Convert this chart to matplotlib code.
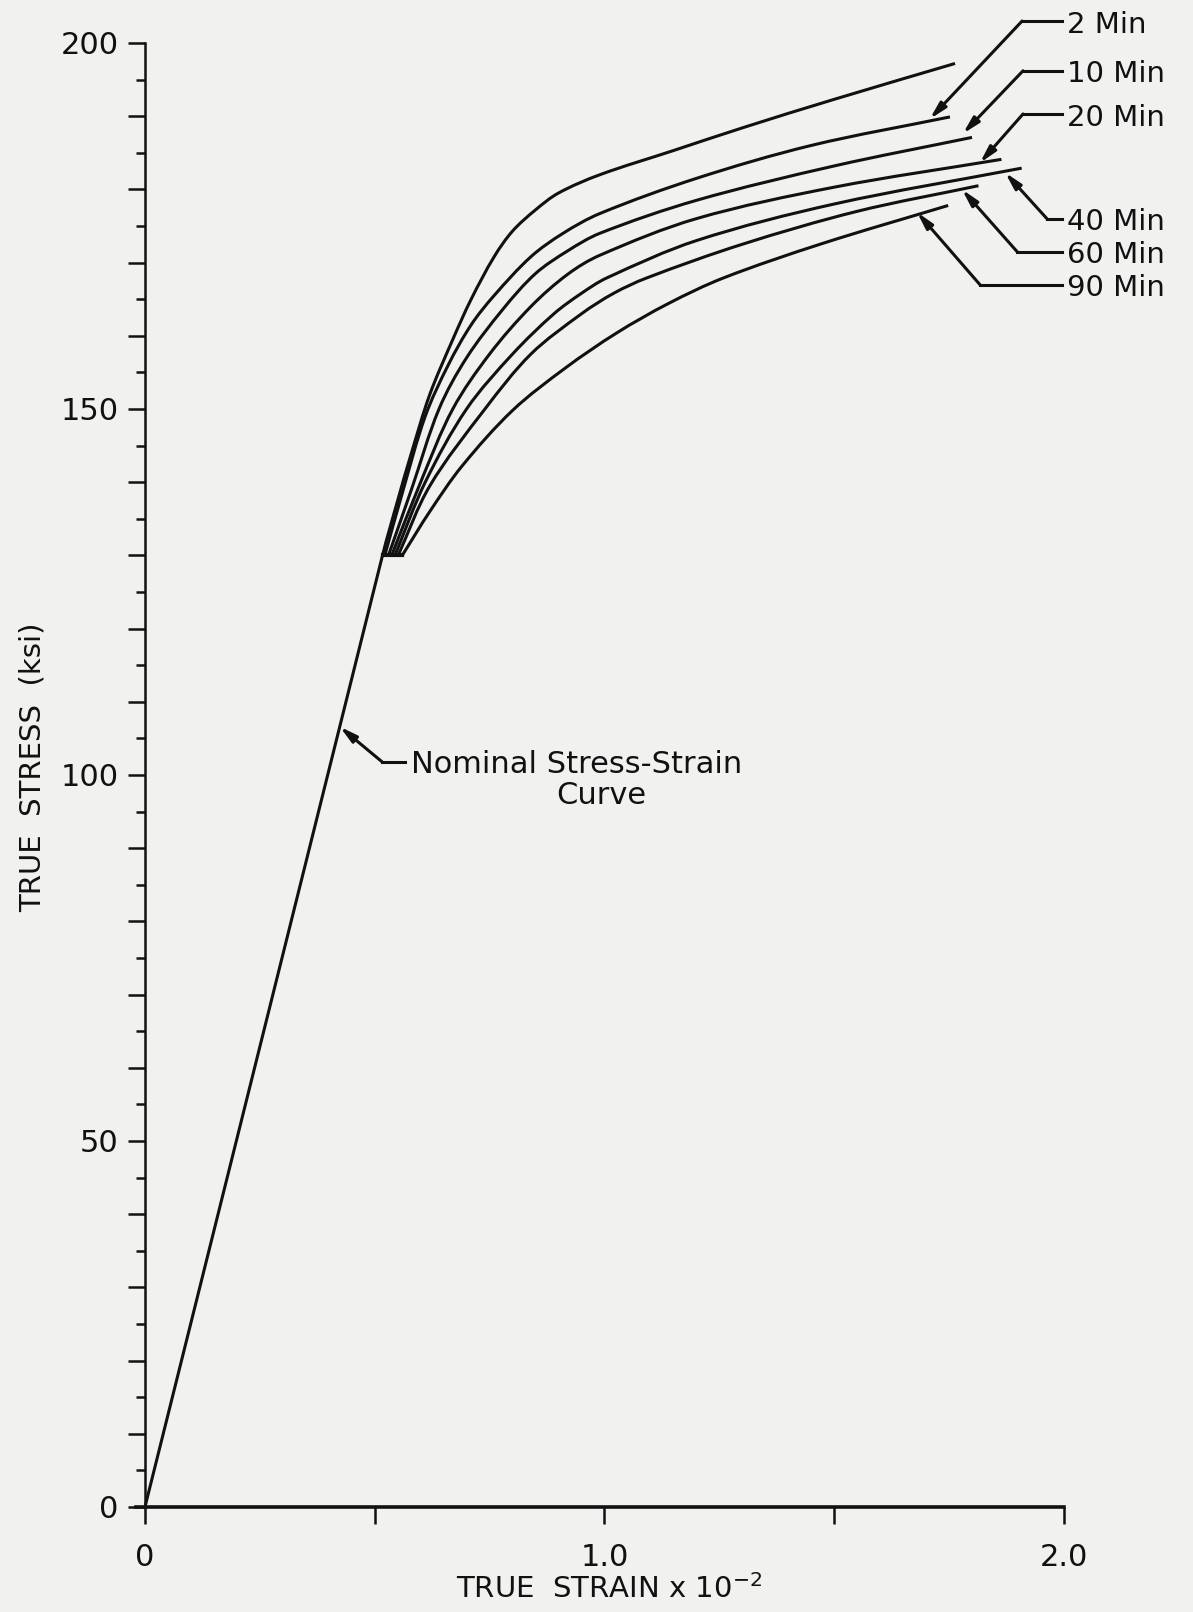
import numpy as np
import matplotlib.pyplot as plt
from matplotlib.path import Path
from matplotlib.patches import PathPatch
from matplotlib.ticker import MultipleLocator, FuncFormatter

plt.rcParams['font.family'] = ['DejaVu Sans']

# ---- data (strain x 10^-2, stress ksi)
nom_x = [0, 0.517, 0.55, 0.58, 0.62, 0.67, 0.71, 0.76, 0.80, 0.85, 0.90, 0.99, 1.15, 1.30, 1.50, 1.763]
nom_y = [0, 130, 137.5, 144, 152, 159.5, 165, 170.8, 174.3, 177.2, 179.5, 182.0, 185.3, 188.4, 192.3, 197.2]

min2_x = [0.522, 0.56, 0.61, 0.66, 0.71, 0.76, 0.84, 0.91, 0.99, 1.2, 1.45, 1.752]
min2_y = [130, 138.5, 149, 156, 161.5, 165.5, 170.8, 174.0, 176.7, 181.5, 186.0, 189.9]

min10_x = [0.53, 0.58, 0.64, 0.70, 0.78, 0.85, 0.92, 0.99, 1.2, 1.5, 1.80]
min10_y = [130, 139, 150, 157, 163.7, 168.5, 171.6, 174.0, 178.5, 183.2, 187.1]

min20_x = [0.537, 0.60, 0.67, 0.75, 0.84, 0.92, 0.99, 1.2, 1.5, 1.864]
min20_y = [130, 140, 150, 157.5, 164.0, 168.4, 171.0, 176.0, 180.3, 184.1]

min40_x = [0.544, 0.61, 0.70, 0.80, 0.89, 0.95, 1.005, 1.2, 1.5, 1.908]
min40_y = [130, 140, 150, 157.5, 163.0, 165.8, 167.9, 173.0, 178.0, 182.9]

min60_x = [0.551, 0.62, 0.74, 0.84, 0.95, 1.02, 1.092, 1.3, 1.55, 1.814]
min60_y = [130, 139.5, 150, 157.5, 163.0, 165.8, 167.9, 172.5, 177.0, 180.5]

min90_x = [0.56, 0.62, 0.69, 0.80, 0.915, 1.027, 1.139, 1.259, 1.474, 1.748]
min90_y = [130, 136.0, 142.2, 149.8, 155.6, 160.4, 164.4, 167.9, 172.6, 177.8]

# label leaders: label, label height, elbow x, arrow tip
labels = ['2 Min', '10 Min', '20 Min', '40 Min', '60 Min', '90 Min']
label_y = [203.0, 196.2, 190.3, 176.0, 171.5, 167.0]
elbow_x = [1.909, 1.911, 1.911, 1.963, 1.898, 1.817]
tip_x = [1.708, 1.780, 1.817, 1.872, 1.778, 1.680]
tip_y = [189.6, 187.6, 183.6, 182.3, 180.0, 176.9]

x_ticks = [0, 0.5, 1.0, 1.5, 2.0]
x_ticklabels = ['0', '', '1.0', '', '2.0']

ink = '#111111'
paper = '#f1f1f0'
SX, SY = 459.5, 7.32  # rough pixels per unit, only used to shape the bezier handles


def smooth_path(xs, ys, start_dir=None):
    # bezier path through the read points (no extra data points)
    p = np.column_stack([np.asarray(xs) * SX, np.asarray(ys) * SY])
    n = len(p)
    t = np.zeros_like(p)
    for i in range(n):
        if i == 0:
            d = np.asarray(start_dir) * [SX, SY] if start_dir is not None else p[1] - p[0]
        elif i == n - 1:
            d = p[-1] - p[-2]
        else:
            d = p[i + 1] - p[i - 1]
        t[i] = d / np.hypot(*d)
    verts = [p[0]]
    codes = [Path.MOVETO]
    for i in range(n - 1):
        L = np.hypot(*(p[i + 1] - p[i]))
        verts += [p[i] + t[i] * L / 3, p[i + 1] - t[i + 1] * L / 3, p[i + 1]]
        codes += [Path.CURVE4] * 3
    verts = np.array(verts) / [SX, SY]
    return Path(verts, codes)


fig = plt.figure(figsize=(11.93, 16.12), dpi=100)
fig.set_facecolor(paper)
ax = fig.add_axes([0.1138, 0.06514, 0.7780, 0.9082])
ax.set_facecolor(paper)

lw = 2.2
# straight nominal part, then the curved branches
ax.plot(nom_x[:2], nom_y[:2], color=ink, lw=lw)
lin_dir = (nom_x[1] - nom_x[0], nom_y[1] - nom_y[0])
ax.add_patch(PathPatch(smooth_path(nom_x[1:], nom_y[1:], lin_dir), fill=False,
                       ec=ink, lw=lw, clip_on=False))
for cx, cy in [(min2_x, min2_y), (min10_x, min10_y), (min20_x, min20_y),
               (min40_x, min40_y), (min60_x, min60_y), (min90_x, min90_y)]:
    ax.add_patch(PathPatch(smooth_path(cx, cy), fill=False, ec=ink, lw=lw,
                           clip_on=False))

# small base where the curves fan out
ax.plot([nom_x[1], min90_x[0]], [nom_y[1], min90_y[0]], color=ink, lw=3, clip_on=False)

# labels with leader lines
for lab, ly, ex, tx, ty in zip(labels, label_y, elbow_x, tip_x, tip_y):
    ax.plot([ex, 1.995], [ly, ly], color=ink, lw=lw, clip_on=False)
    ax.annotate('', xy=(tx, ty), xytext=(ex, ly),
                arrowprops=dict(arrowstyle='-|>,head_length=1.0,head_width=0.25',
                                mutation_scale=10, color=ink, lw=lw,
                                shrinkA=0, shrinkB=0),
                annotation_clip=False)
    ax.text(2.007, ly - 0.5, lab, fontsize=21, va='center', ha='left', color=ink)

# nominal curve label
ax.plot([0.516, 0.566], [101.8, 101.8], color=ink, lw=lw)
ax.annotate('', xy=(0.424, 106.6), xytext=(0.516, 101.8),
            arrowprops=dict(arrowstyle='-|>,head_length=1.0,head_width=0.25',
                            mutation_scale=10, color=ink, lw=lw,
                            shrinkA=0, shrinkB=0))
ax.text(0.578, 101.5, 'Nominal Stress-Strain', fontsize=22, ha='left',
        va='center', color=ink)
ax.text(0.994, 97.2, 'Curve', fontsize=22, ha='center', va='center', color=ink)

# axes
ax.set_xlim(-0.02, 2.0)
ax.set_ylim(0, 200)
ax.spines['top'].set_visible(False)
ax.spines['right'].set_visible(False)
ax.spines['left'].set_position(('data', 0))
ax.spines['left'].set_linewidth(1.8)
ax.spines['bottom'].set_linewidth(2.6)
ax.spines['left'].set_color(ink)
ax.spines['bottom'].set_color(ink)

ax.set_xticks(x_ticks)
ax.set_xticklabels(x_ticklabels)
ax.tick_params(axis='x', direction='out', length=12, width=1.8, pad=14,
               labelsize=22, colors=ink)

ax.yaxis.set_major_locator(MultipleLocator(10))
ax.yaxis.set_minor_locator(MultipleLocator(5))
ax.yaxis.set_major_formatter(FuncFormatter(lambda v, p: f'{v:.0f}' if v % 50 == 0 else ''))
ax.tick_params(axis='y', which='major', direction='out', length=12, width=1.8, pad=7,
               labelsize=22, colors=ink)
ax.tick_params(axis='y', which='minor', direction='out', length=6.5, width=1.8, colors=ink)

ax.set_ylabel('TRUE  STRESS  (ksi)', fontsize=21, color=ink)
ax.yaxis.set_label_coords(-0.096, 0.505)
ax.set_xlabel('TRUE  STRAIN x 10$^{-2}$', fontsize=21, color=ink, va='center')
ax.xaxis.set_label_coords(0.51, -0.056)

fig.savefig('out.png', dpi=100, facecolor=paper)
